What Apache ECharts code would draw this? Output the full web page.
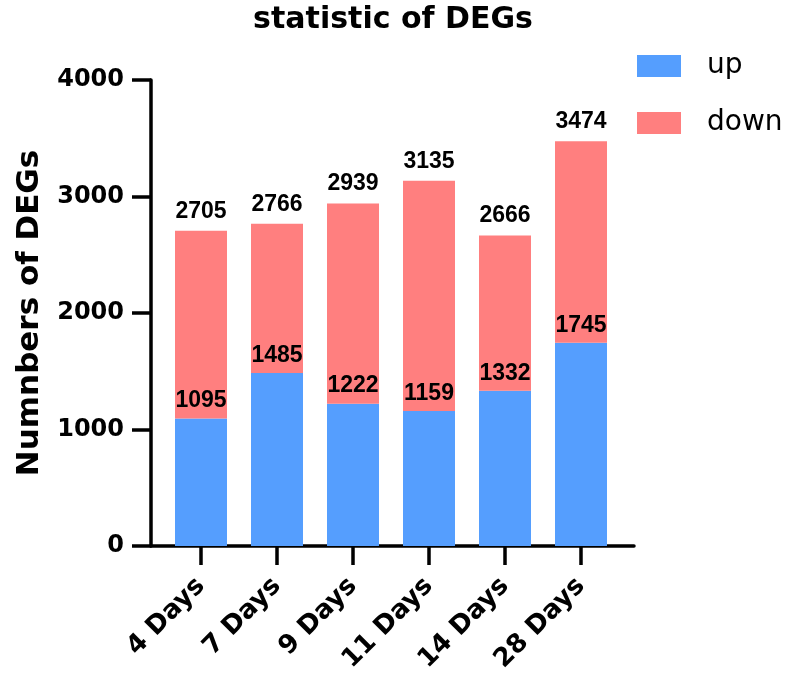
<!DOCTYPE html>
<html>
<head>
<meta charset="utf-8">
<script src="https://cdn.jsdelivr.net/npm/echarts@6/dist/echarts.min.js"></script>
<style>html,body{margin:0;padding:0;background:#fff}#c{width:786px;height:677px}</style>
</head>
<body>
<div id="c"></div>
<script>
const categories = ['4 Days', '7 Days', '9 Days', '11 Days', '14 Days', '28 Days'];
const upValues = [1095, 1485, 1222, 1159, 1332, 1745];
const downValues = [1610, 1281, 1717, 1976, 1334, 1729];
const totalLabels = [2705, 2766, 2939, 3135, 2666, 3474];
const yTicks = [0, 1000, 2000, 3000, 4000];

const WIDE = 'DejaVu Sans';
const NARROW = '"Liberation Sans Narrow", "Liberation Sans", Arial, sans-serif';

const chart = echarts.init(document.getElementById('c'));
chart.setOption({
  animation: false,
  backgroundColor: '#fff',
  title: {
    text: 'statistic of DEGs',
    left: 'center',
    top: 0,
    textStyle: { fontFamily: WIDE, fontWeight: 'bold', fontSize: 30, color: '#000' }
  },
  legend: {
    orient: 'vertical',
    left: 632,
    top: 47,
    itemWidth: 44,
    itemHeight: 22,
    itemGap: 29,
    icon: 'rect',
    data: ['up', 'down'],
    textStyle: { fontFamily: WIDE, fontSize: 28, color: '#000', padding: [0, 0, 0, 21] }
  },
  grid: [
    { left: 163, right: 167, top: 80, bottom: 131, containLabel: false },
    { left: 151, right: 152, top: 80, bottom: 131, containLabel: false }
  ],
  xAxis: [
    {
      type: 'category',
      gridIndex: 0,
      data: categories,
      axisLine: { show: false },
      axisTick: { show: true, alignWithLabel: true, length: 19, lineStyle: { color: '#000', width: 3.5 } },
      axisLabel: {
        rotate: 45, margin: 36, interval: 0,
        fontFamily: WIDE, fontWeight: 'bold', fontSize: 26, color: '#000'
      }
    },
    {
      type: 'value',
      gridIndex: 1,
      min: 0, max: 1,
      axisLine: { show: true, lineStyle: { color: '#000', width: 3.5 } },
      axisTick: { show: false },
      axisLabel: { show: false },
      splitLine: { show: false }
    }
  ],
  yAxis: [
    {
      type: 'value',
      gridIndex: 0,
      min: yTicks[0],
      max: yTicks[yTicks.length - 1],
      interval: 1000,
      offset: 12,
      name: 'Numnbers of DEGs',
      nameLocation: 'middle',
      nameGap: 106,
      nameTextStyle: { fontFamily: WIDE, fontWeight: 'bold', fontSize: 31, color: '#000' },
      axisLine: { show: true, lineStyle: { color: '#000', width: 3.5 } },
      axisTick: { show: true, length: 19, lineStyle: { color: '#000', width: 3.5 } },
      axisLabel: {
        margin: 27, fontFamily: WIDE, fontWeight: 'bold', fontSize: 24, color: '#000',
        formatter: v => String(v)
      },
      splitLine: { show: false }
    },
    {
      type: 'value',
      gridIndex: 1,
      show: false,
      min: 0, max: 1
    }
  ],
  series: [
    {
      name: 'up',
      type: 'bar',
      stack: 'total',
      xAxisIndex: 0, yAxisIndex: 0,
      barWidth: 52,
      data: upValues,
      itemStyle: { color: '#559EFE' },
      label: {
        show: true, position: 'top', distance: 6,
        fontFamily: NARROW, fontWeight: 'bold', fontSize: 23, color: '#000'
      }
    },
    {
      name: 'down',
      type: 'bar',
      stack: 'total',
      xAxisIndex: 0, yAxisIndex: 0,
      barWidth: 52,
      data: downValues,
      itemStyle: { color: '#FF7F7F' },
      label: {
        show: true, position: 'top', distance: 8,
        formatter: p => String(totalLabels[p.dataIndex]),
        fontFamily: NARROW, fontWeight: 'bold', fontSize: 23, color: '#000'
      }
    }
  ]
});
</script>
</body>
</html>
